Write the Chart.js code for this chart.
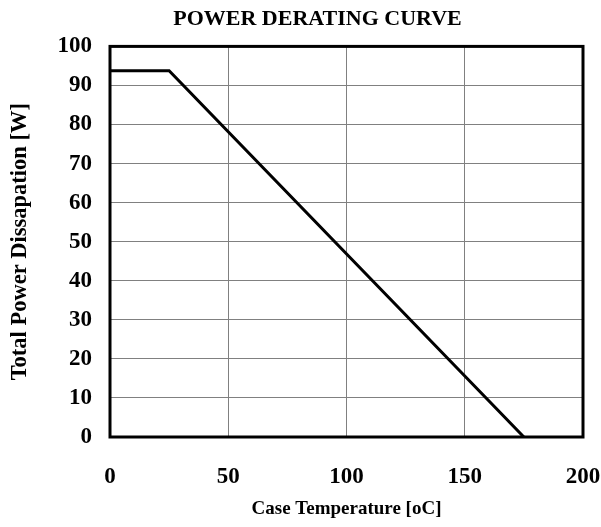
<!DOCTYPE html>
<html>
<head>
<meta charset="utf-8">
<script src="https://cdn.jsdelivr.net/npm/chart.js@4"></script>
<style>
  html, body { margin: 0; padding: 0; background: #fff; }
  #wrap { width: 601px; height: 527px; }
</style>
</head>
<body>
<div id="wrap"><canvas id="deratingCanvas" width="601" height="527"></canvas></div>
<script>
// derating curve
const caseTemp = [0, 25, 175];
const powerW = [93.75, 93.75, 0];
const xTicks = [0, 50, 100, 150, 200];
const yTicks = [0, 10, 20, 30, 40, 50, 60, 70, 80, 90, 100];

const serif = '"Liberation Serif", "Times New Roman", serif';

// thick frame round the plot area (top and right sides too)
const frame = {
    id: 'frame',
    afterDatasetsDraw(chart) {
        const a = chart.chartArea;
        const c = chart.ctx;
        c.save();
        c.strokeStyle = '#000';
        c.lineWidth = 3;
        c.strokeRect(a.left, a.top, a.right - a.left, a.bottom - a.top);
        c.restore();
    }
};

const ctx = document.getElementById('deratingCanvas').getContext('2d');
new Chart(ctx, {
    type: 'scatter',
    data: {
        datasets: [{
            data: caseTemp.map((t, i) => ({ x: t, y: powerW[i] })),
            showLine: true,
            borderColor: '#000',
            borderWidth: 3,
            pointRadius: 0,
            tension: 0
        }]
    },
    options: {
        responsive: false,
        animation: false,
        // left padding pushes the main title a bit right of centre, like the original
        layout: { padding: { left: 34, right: 0, top: 0, bottom: 0 } },
        plugins: {
            legend: { display: false },
            tooltip: { enabled: false },
            title: {
                display: true,
                text: 'POWER DERATING CURVE',
                color: '#000',
                font: { family: serif, size: 22, weight: 'bold' },
                padding: { top: 6, bottom: 14 }
            }
        },
        scales: {
            x: {
                type: 'linear',
                min: 0,
                max: 200,
                afterBuildTicks: axis => { axis.ticks = xTicks.map(v => ({ value: v })); },
                // chart.js reserves twice the tick padding; set the box size directly
                afterFit: axis => { axis.height = 90; axis.paddingRight = 18; },
                ticks: {
                    color: '#000',
                    padding: 26,
                    maxRotation: 0,
                    autoSkip: false,
                    font: { family: serif, size: 23, weight: 'bold' }
                },
                grid: { color: '#808080', lineWidth: 1, drawTicks: false },
                border: { display: false },
                title: {
                    display: true,
                    text: 'Case Temperature [oC]',
                    color: '#000',
                    font: { family: serif, size: 19, weight: 'bold' },
                    padding: { top: 0, bottom: 7 }
                }
            },
            y: {
                min: 0,
                max: 100,
                afterBuildTicks: axis => { axis.ticks = yTicks.map(v => ({ value: v })); },
                afterFit: axis => { axis.width = 76; },
                ticks: {
                    color: '#000',
                    padding: 18,
                    autoSkip: false,
                    font: { family: serif, size: 23, weight: 'bold' }
                },
                grid: { color: '#808080', lineWidth: 1, drawTicks: false },
                border: { display: false },
                title: {
                    display: true,
                    text: 'Total Power Dissapation [W]',
                    color: '#000',
                    font: { family: serif, size: 22.5, weight: 'bold' },
                    padding: { top: -27.5, bottom: 0 }
                }
            }
        }
    },
    plugins: [frame]
});
</script>
</body>
</html>
